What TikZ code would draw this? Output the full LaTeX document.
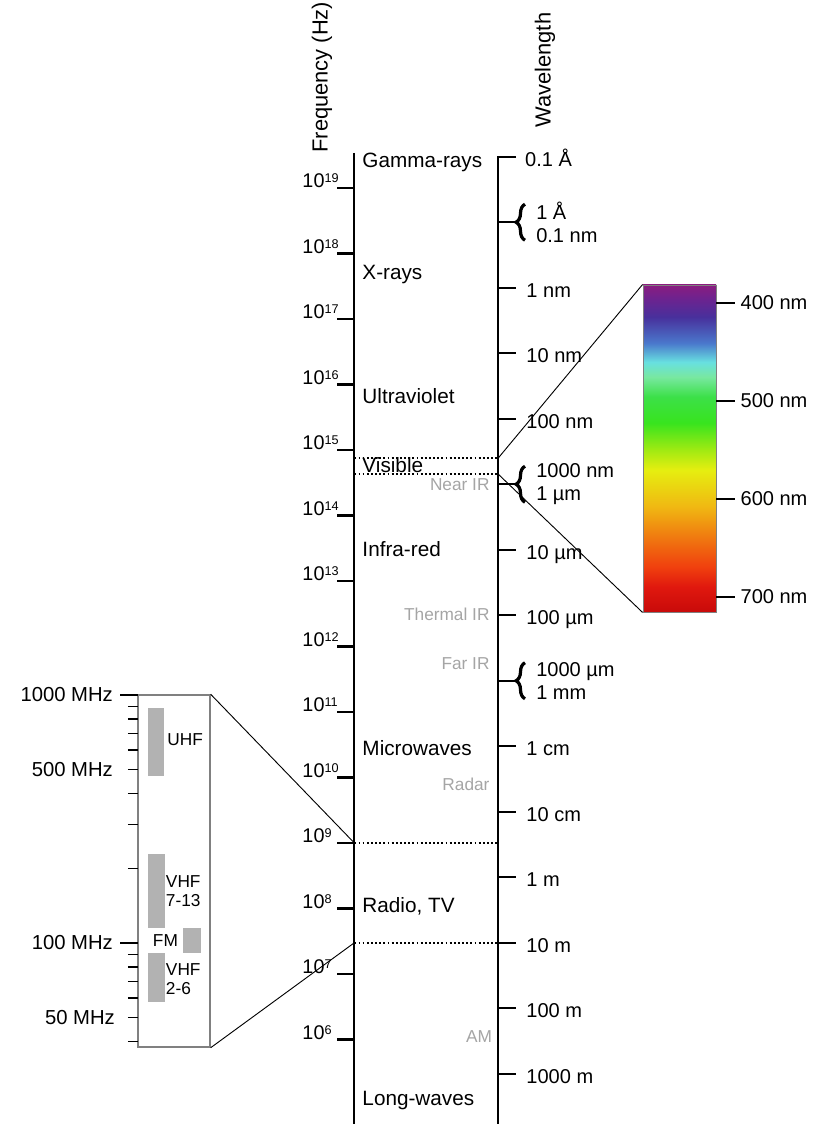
\documentclass[tikz,border=0pt]{standalone}
\usepackage{fontspec}
\setmainfont{Liberation Sans}
\usetikzlibrary{decorations.pathreplacing}

\definecolor{bandgray}{RGB}{178,178,178}
\definecolor{notegray}{RGB}{165,165,165}
\definecolor{sp0}{HTML}{C80A0A}
\definecolor{sp1}{HTML}{E0180E}
\definecolor{sp2}{HTML}{F0400E}
\definecolor{sp3}{HTML}{F07A10}
\definecolor{sp4}{HTML}{F0B812}
\definecolor{sp5}{HTML}{E6EE10}
\definecolor{sp6}{HTML}{A0EA12}
\definecolor{sp7}{HTML}{38E41E}
\definecolor{sp8}{HTML}{3CE048}
\definecolor{sp9}{HTML}{78E8A0}
\definecolor{sp10}{HTML}{68E0E0}
\definecolor{sp11}{HTML}{4A78CC}
\definecolor{sp12}{HTML}{48309C}
\definecolor{sp13}{HTML}{6A2490}
\definecolor{sp14}{HTML}{8A1C80}
\pgfdeclareverticalshading{visspec}{100bp}{color(0bp)=(sp0); color(25bp)=(sp0);
	color(28.8bp)=(sp1); color(31.9bp)=(sp2); color(36.5bp)=(sp3); color(41.1bp)=(sp4);
	color(46.7bp)=(sp5); color(49.8bp)=(sp6); color(53.9bp)=(sp7); color(57.9bp)=(sp8);
	color(60.9bp)=(sp9); color(63.2bp)=(sp10); color(66.1bp)=(sp11); color(70.1bp)=(sp12);
	color(72.7bp)=(sp13); color(75bp)=(sp14); color(100bp)=(sp14)}

\newcommand{\decade}[1]{10\raisebox{2.2pt}{\fontsize{5.5}{6}\selectfont #1}}

\tikzset{
	axisline/.style={line width=0.9pt},
	tickline/.style={line width=0.6pt},
	zoomline/.style={line width=0.4pt},
	bandline/.style={densely dotted, line width=0.8pt},
	bracestyle/.style={decorate, decoration={brace, amplitude=3.9pt}, line width=1.4pt},
	title/.style={font=\fontsize{9.5}{11}\selectfont, rotate=90, anchor=base west, inner sep=0pt},
	cat/.style={font=\fontsize{9}{10}\selectfont, anchor=west, inner sep=0pt},
	note/.style={font=\fontsize{7.5}{9}\selectfont, text=notegray, anchor=east, inner sep=0pt},
	freq/.style={font=\fontsize{8.6}{10}\selectfont, anchor=base west, inner sep=0pt},
	wave/.style={font=\fontsize{8.7}{10}\selectfont, anchor=base west, inner sep=0pt},
	pair/.style={font=\fontsize{8.7}{10}\selectfont, anchor=west, align=left, inner sep=0pt},
	mhz/.style={font=\fontsize{8.8}{10}\selectfont, anchor=east, inner sep=0pt},
	tv/.style={font=\fontsize{7.5}{8.3}\selectfont, anchor=west, align=left, inner sep=0pt},
}

\begin{document}
\begin{tikzpicture}
	\useasboundingbox (0,4.71) rectangle (12.504,21.87);
	%titles
	\node[title] (ftitle) at (5.0,19.534) {Frequency (Hz)};
	\node[title] (wtitle) at (8.408,19.916) {Wavelength};
	%frequency axis
		\draw[axisline] (5.41,19.534) -- (5.41,4.71);
		% ticks
		\foreach \e in {6,...,19} {
			\draw[axisline] (5.145,\e) -- (5.41,\e);
			\node[freq] (f\e) at (4.611,\e) {\decade{\e}};
		}
		% regions
		\node[cat] (gamma) at (5.527,19.397) {Gamma-rays};
		\node[cat] (xray) at (5.527,17.672) {X-rays};
		\node[cat] (uv) at (5.527,15.824) {Ultraviolet};
		\node[cat] (visible) at (5.527,14.771) {Visible};
		\node[cat] (ir) at (5.527,13.489) {Infra-red};
		\node[cat] (micro) at (5.527,10.45) {Microwaves};
		\node[cat] (radio) at (5.527,8.038) {Radio, TV};
		\node[cat] (long) at (5.527,5.061) {Long-waves};
		% sub-bands
		\node[note] (nearir) at (7.48,14.466) {Near IR};
		\node[note] (thermal) at (7.48,12.496) {Thermal IR};
		\node[note] (farir) at (7.48,11.733) {Far IR};
		\node[note] (radar) at (7.48,9.901) {Radar};
		\node[note] (am) at (7.52,6.038) {AM};
	%wavelength axis
		\draw[axisline] (7.878,19.477) -- (7.605,19.477) -- (7.605,4.71);
		\node[wave] (w0) at (8.01,19.33) {0.1 Å};
		% ticks
		\foreach \p/\t [count=\i] in {9/1 nm, 8/10 nm, 7/100 nm, 5/10 µm, 4/100 µm,
				2/1 cm, 1/10 cm, 0/1 m, -1/10 m, -2/100 m, -3/1000 m} {
			\draw[axisline] (7.605,{8.477+\p}) -- (7.878,{8.477+\p});
			\node[wave] (w\i) at (8.03,{8.335+\p}) {\t};
		}
		% braced pairs
		\foreach \p/\ta/\tb [count=\i] in {10/1 Å/0.1 nm, 6/1000 nm/1 µm, 3/1000 µm/1 mm} {
			\draw[axisline] (7.605,{8.477+\p}) -- (7.878,{8.477+\p});
			\draw[bracestyle] (8.015,{8.477+\p-0.275}) -- (8.015,{8.477+\p+0.275});
			\node[pair] (b\i) at (8.18,{8.477+\p}) {\ta\\\tb};
		}
	%visible band
		\coordinate (visTop) at (7.605,14.875);
		\coordinate (visBot) at (7.605,14.632);
		\draw[bandline] (5.41,14.875) -- (visTop);
		\draw[bandline] (5.41,14.632) -- (visBot);
		% spectrum
		\node[draw=gray, line width=0.4pt, shade, shading=visspec, minimum width=1.114cm,
			minimum height=4.992cm, inner sep=0pt] (spec) at (10.374,15.023) {};
		\foreach \w [count=\i, evaluate=\w as \yw using {17.244-0.01496*(\w-400)}] in {400,500,600,700} {
			\draw[axisline] (10.931,\yw) -- (11.221,\yw);
			\node[wave, anchor=west] (nm\i) at (11.3,\yw) {\w\ nm};
		}
		\draw[zoomline] (visTop) -- (spec.north west);
		\draw[zoomline] (visBot) -- (spec.south west);
	%radio band
		\coordinate (radTop) at (5.41,9);
		\coordinate (radBot) at (5.41,7.477);
		\draw[bandline] (radTop) -- (7.605,9);
		\draw[bandline] (radBot) -- (7.605,7.477);
		% inset
		\node[draw=gray, line width=0.6pt, minimum width=1.099cm, minimum height=5.375cm,
			inner sep=0pt] (inset) at (2.6565,8.5725) {};
		\foreach \v [evaluate=\v as \yv using {11.26-3.786*log10(1000/\v)}] in {40,50,60,70,80,90,200,300,400,500,600,700,800,900} {
			\draw[tickline] (1.954,\yv) -- (2.107,\yv);
		}
		\draw[tickline] (1.832,11.26) -- (2.107,11.26);
		\draw[tickline] (1.832,7.474) -- (2.107,7.474);
		\node[mhz] (m1000) at (1.73,11.26) {1000 MHz};
		\node[mhz] (m500) at (1.73,10.12) {500 MHz};
		\node[mhz] (m100) at (1.73,7.474) {100 MHz};
		\node[mhz] (m50) at (1.76,6.334) {50 MHz};
		% channels
		\fill[bandgray] (2.26,10.023) rectangle (2.511,11.061);
		\fill[bandgray] (2.26,7.702) rectangle (2.519,8.832);
		\fill[bandgray] (2.794,7.321) rectangle (3.069,7.702);
		\fill[bandgray] (2.26,6.573) rectangle (2.519,7.321);
		\node[tv] (uhf) at (2.55,10.573) {UHF};
		\node[tv] (vhfhi) at (2.527,8.26) {VHF\\7-13};
		\node[tv] (fm) at (2.328,7.504) {FM};
		\node[tv] (vhflo) at (2.527,6.916) {VHF\\2-6};
		\draw[zoomline] (inset.north east) -- (radTop);
		\draw[zoomline] (inset.south east) -- (radBot);
\end{tikzpicture}
\end{document}
